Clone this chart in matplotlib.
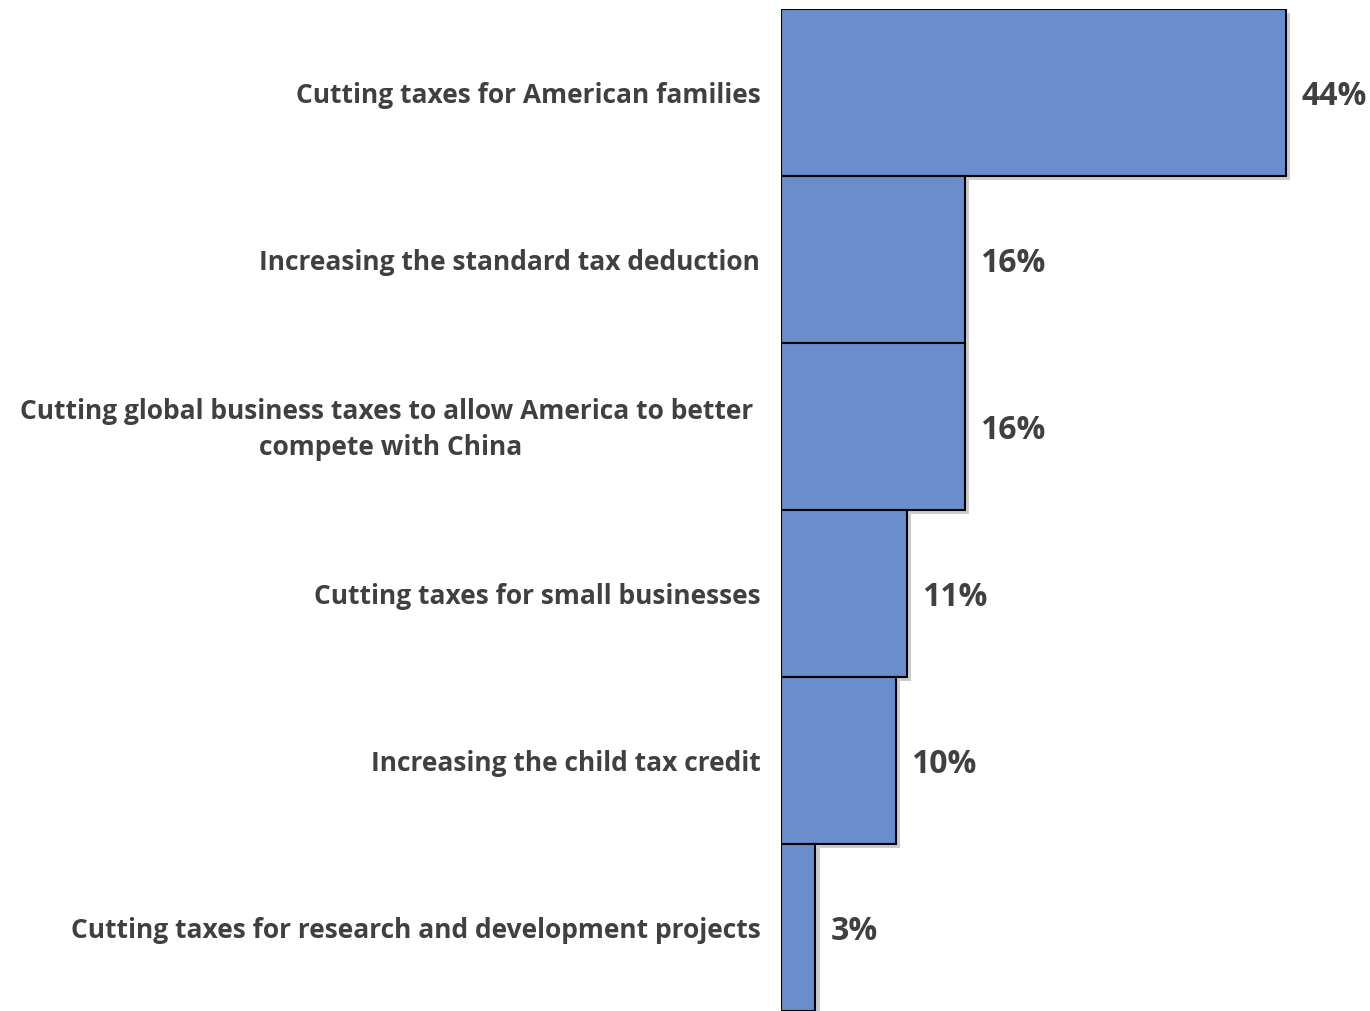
import matplotlib.pyplot as plt
import matplotlib.patheffects as pe

categories = [
    "Cutting taxes for American families",
    "Increasing the standard tax deduction",
    "Cutting global business taxes to allow America to better \ncompete with China",
    "Cutting taxes for small businesses",
    "Increasing the child tax credit",
    "Cutting taxes for research and development projects",
]
values = [44, 16, 16, 11, 10, 3]
value_labels = ["44%", "16%", "16%", "11%", "10%", "3%"]

bar_color = "#6a8dcb"
text_color = "#404040"

plt.rcParams["font.family"] = ["Open Sans", "DejaVu Sans"]

fig = plt.figure(figsize=(13.70, 10.12), dpi=100)
ax = fig.add_axes([781 / 1370, 0, (1370 - 781) / 1370, 1002 / 1012])

y = list(range(len(categories)))
shadow = [pe.SimplePatchShadow(offset=(3, -3), shadow_rgbFace="#808080", alpha=0.4), pe.Normal()]
bars = ax.barh(y, values, height=1.0, color=bar_color, edgecolor="black", linewidth=1.5)
for b in bars:
    b.set_path_effects(shadow)

for yi, v, lab in zip(y, values, value_labels):
    ax.text(v + 1.3, yi + 0.015, lab, ha="left", va="center", fontsize=23,
            fontweight="bold", color=text_color)

for yi, cat in zip(y, categories):
    ax.text(-1.8, yi + 0.012, cat, ha="right", va="center", fontsize=19,
            fontweight="bold", color=text_color, multialignment="center",
            linespacing=1.45)

ax.set_xlim(0, (1370 - 781) / 11.48)
ax.set_ylim(len(categories) - 0.5, -0.5)
ax.axis("off")

plt.savefig("out.png", dpi=100)
plt.close()
